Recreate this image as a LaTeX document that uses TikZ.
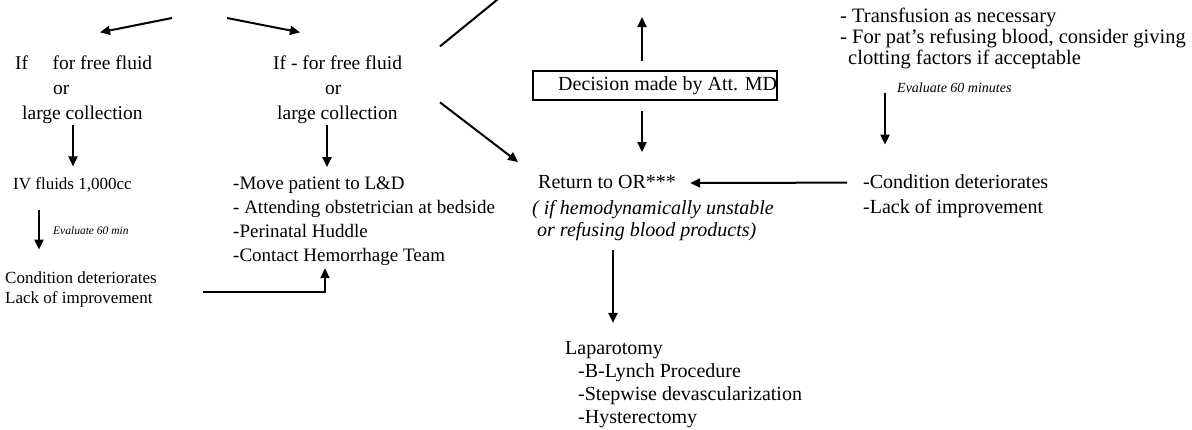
\documentclass[tikz,border=0pt]{standalone}
\usepackage{fontspec}
\setmainfont{Liberation Serif}
\usetikzlibrary{arrows.meta}
\begin{document}
\begin{tikzpicture}[x=1pt,y=-1pt,
  txt/.style={inner sep=0pt, anchor=base west, align=left, font=\fontsize{20}{23}\selectfont},
  ital/.style={inner sep=0pt, anchor=base west, align=left, font=\fontsize{11.5}{14}\selectfont\itshape},
  conn/.style={line width=2pt, -{Triangle[length=10pt,width=9pt]}},
  plain/.style={line width=2pt}]
\useasboundingbox[fill=white] (0,0) rectangle (1192,429);
\clip (0,0) rectangle (1192,429);

% off-picture sources / targets
\coordinate (topA) at (172,18);
\coordinate (topB) at (227,18);
\coordinate (topC) at (530,-27);
\coordinate (topM) at (642,17);

% left column (base = baseline of last line)
\node[txt, font=\fontsize{19.5}{25}\selectfont] (ifL) at (15,119) {If\quad\ for free fluid\\\hspace*{38pt}or\\\hspace*{7pt}large collection};
\node[txt, font=\fontsize{17}{20}\selectfont] (ivf) at (13,189) {IV fluids 1,000cc};
\node[ital] (ev1) at (53,234) {Evaluate 60 min};
\node[txt, font=\fontsize{17}{20}\selectfont] (condL) at (5,303) {Condition deteriorates\\Lack of improvement};

% second column
\node[txt, font=\fontsize{19.5}{25}\selectfont] (ifR) at (273,119) {If - for free fluid\\\hspace*{52pt}or\\\hspace*{4pt}large collection};
\node[txt, font=\fontsize{19}{24}\selectfont] (moveB) at (233,261) {-Move patient to L\&D\\- Attending obstetrician at bedside\\-Perinatal Huddle\\-Contact Hemorrhage Team};

% middle column
\node[draw, line width=1.2pt, minimum width=244pt, minimum height=29pt, inner sep=0pt] (dec) at (655,85.5) {};
\node[txt, anchor=west] (dectxt) at (558,86) {Decision made by Att. MD};
\node[txt] (retT) at (538,188) {Return to OR***};
\node[txt, font=\fontsize{20}{22}\selectfont\itshape] (retI) at (532,236) {( if hemodynamically unstable\\\ or refusing blood products)};
\node[txt] (lap) at (565,423) {Laparotomy\\\hspace*{13pt}-B-Lynch Procedure\\\hspace*{13pt}-Stepwise devascularization\\\hspace*{13pt}-Hysterectomy};

% right column
\node[txt, font=\fontsize{20.5}{21}\selectfont] (trans) at (840,64) {- Transfusion as necessary\\- For pat’s refusing blood, consider giving\\\hspace*{8pt}clotting factors if acceptable};
\node[ital, font=\fontsize{14}{16}\selectfont\itshape] (ev2) at (897,92) {Evaluate 60 minutes};
\node[txt, font=\fontsize{20}{25}\selectfont] (condR) at (863,213) {-Condition deteriorates\\-Lack of improvement};

% connectors
\draw[conn] (topA) -- ([shift={(85,-22.7)}]ifL.north west);
\draw[conn] (topB) -- ([shift={(27,-22.7)}]ifR.north west);
\draw[conn] ([shift={(58,1.8)}]ifL.south west) -- ([shift={(60,-10.4)}]ivf.north west);
\draw[conn] ([shift={(26,18.6)}]ivf.south west) -- ([shift={(34,-21.4)}]condL.north west);
\draw[conn] ([shift={(46.4,3)}]condL.east) -| ([shift={(92,2.9)}]moveB.south west);
\draw[conn] ([shift={(54,1.8)}]ifR.south west) -- ([shift={(94,-9)}]moveB.north west);
\draw[plain] ([shift={(167,-8.7)}]ifR.north west) -- (topC);
\draw[conn] ([shift={(167,47.3)}]ifR.north west) -- ([shift={(-20,-12.5)}]retT.north west);
\draw[conn] ([shift={(-13,-9)}]dec.north) -- (topM);
\draw[conn] ([shift={(-13,10)}]dec.south) -- ([shift={(104,-22.5)}]retT.north west);
\draw[conn] ([shift={(81,9.7)}]retI.south west) -- ([shift={(48,-17.8)}]lap.north west);
\draw[conn] ([shift={(45,24.7)}]trans.south west) -- ([shift={(22,-29.3)}]condR.north west);
\draw[conn] ([shift={(-16,8.7)}]condR.north west) -- ([shift={(14,-5)}]retT.base east);
\end{tikzpicture}
\end{document}
